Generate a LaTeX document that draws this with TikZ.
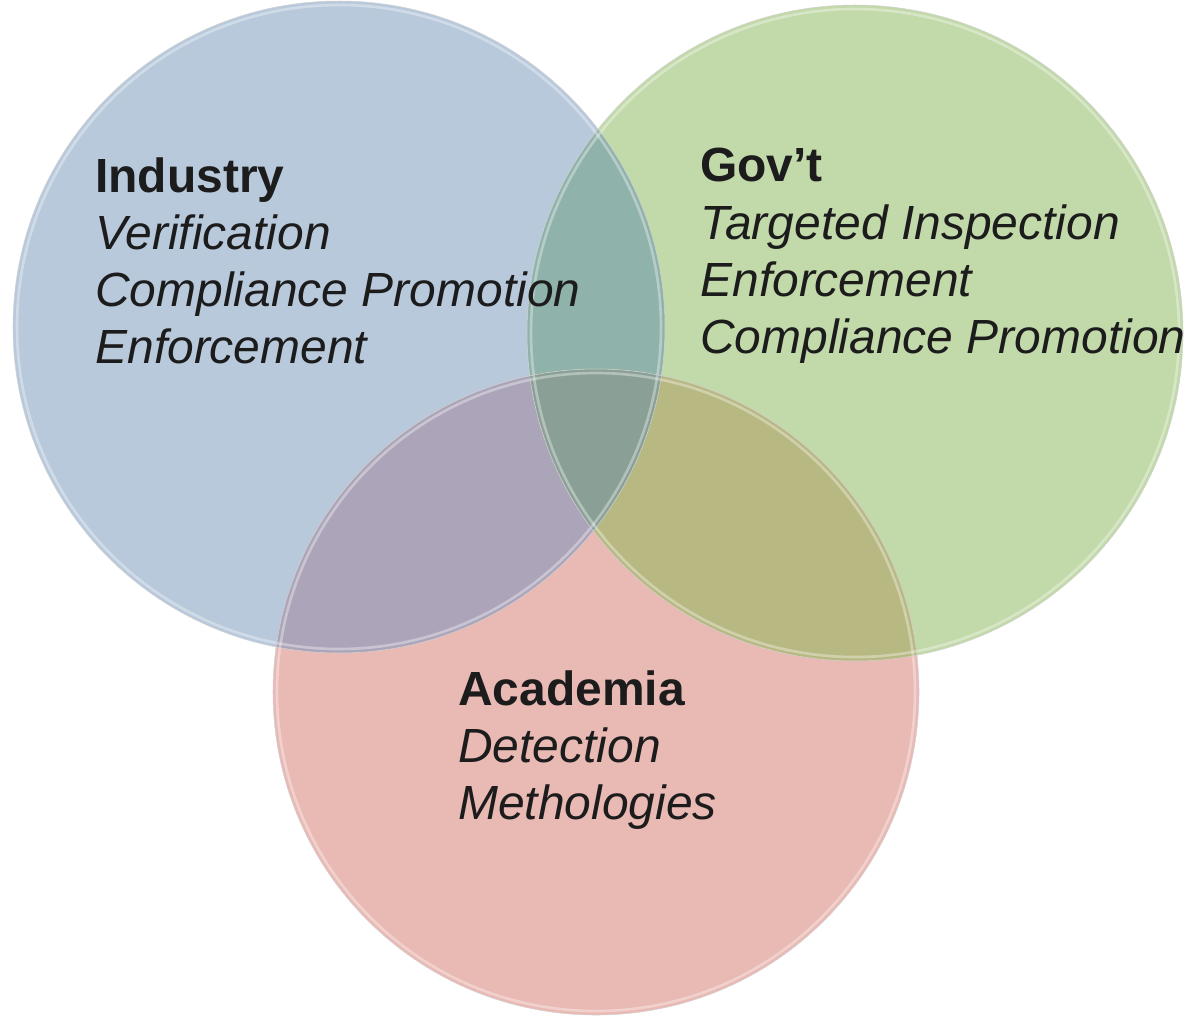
\documentclass[tikz,border=0pt]{standalone}
\usepackage{fontspec}
\setmainfont{Liberation Sans}
\usepackage{xcolor}

\definecolor{indblue}{HTML}{B8C9DC}
\definecolor{govgreen}{HTML}{C2D9AA}
\definecolor{acared}{HTML}{E9B9B4}
\definecolor{indgov}{HTML}{8FB2AA}
\definecolor{indaca}{HTML}{ACA5B9}
\definecolor{govaca}{HTML}{B8B882}
\definecolor{allthree}{HTML}{8AA096}
\definecolor{textdark}{HTML}{1C1C1C}

\tikzset{
  lbl/.style={anchor=north west, inner sep=0pt, align=left, text=textdark,
    font=\fontsize{27.3}{32.6}\selectfont},
  rim/.style={white, opacity=.35, line width=1.5pt}
}

\begin{document}
\begin{tikzpicture}[x=0.02cm,y=-0.02cm]
      \useasboundingbox (0,0) rectangle (1190,1015);

      \coordinate (ind) at (339,327);
      \coordinate (gov) at (855,333);
      \coordinate (aca) at (596,692);

      % the three sets
      \fill[indblue] (ind) circle (326);
      \fill[govgreen] (gov) circle (328);
      \fill[acared] (aca) circle (323);

      % overlaps
      \begin{scope}
        \clip (ind) circle (326);
        \fill[indgov] (gov) circle (328);
        \fill[indaca] (aca) circle (323);
      \end{scope}
      \begin{scope}
        \clip (gov) circle (328);
        \fill[govaca] (aca) circle (323);
      \end{scope}
      \begin{scope}
        \clip (ind) circle (326);
        \clip (gov) circle (328);
        \fill[allthree] (aca) circle (323);
      \end{scope}

      \draw[rim] (ind) circle (322);
      \draw[rim] (gov) circle (324);
      \draw[rim] (aca) circle (319);
      \draw[gray!35, line width=.3pt] (ind) circle (326);
      \draw[gray!35, line width=.3pt] (gov) circle (328);
      \draw[gray!35, line width=.3pt] (aca) circle (323);

      \node[lbl] (industry) at (95,157)
        {\textbf{Industry}\\ \textit{Verification}\\ \textit{Compliance Promotion}\\ \textit{Enforcement}};
      \node[lbl] (govt) at (700,148)
        {\textbf{Gov’t}\\ \textit{Targeted Inspection}\\ \textit{Enforcement}\\ \textit{Compliance Promotion}};
      \node[lbl] (academia) at (458,670)
        {\textbf{Academia}\\ \textit{Detection}\\ \textit{Methologies}};
    \end{tikzpicture}
\end{document}
